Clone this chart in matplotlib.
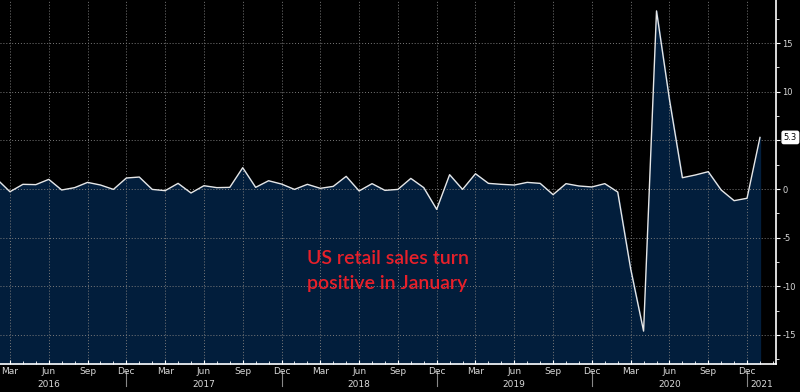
import matplotlib.pyplot as plt
import numpy as np

# monthly % change in US retail sales, Feb 2016 .. Jan 2021
values = [1.0, -0.28, 0.48, 0.45, 0.99, -0.1, 0.14, 0.68, 0.41, -0.04, 1.13,
          1.23, -0.04, -0.17, 0.58, -0.41, 0.34, 0.14, 0.17, 2.19, 0.17, 0.85, 0.51,
          -0.04, 0.48, 0.07, 0.27, 1.30, -0.2, 0.55, -0.14, -0.04, 1.09, 0.14, -2.09,
          1.47, -0.04, 1.57, 0.58, 0.48, 0.41, 0.68, 0.58, -0.58, 0.55, 0.31, 0.21,
          0.55, -0.31, -8.2, -14.6, 18.3, 9.2, 1.16, 1.44, 1.78, -0.1, -1.2, -0.95,
          5.3]
month_labels = ['Mar', 'Jun', 'Sep', 'Dec']
years = ['2016', '2017', '2018', '2019', '2020', '2021']
y_ticks = [-15, -10, -5, 0, 5, 10, 15]
y_labels = ['-15', '-10', '-5', '0', '', '10', '15']  # 5 is hidden behind the last-value box
last_label = '5.3'

x = np.arange(len(values))  # 0 = Feb 2016
ymin, ymax = -17.98, 19.42

fig = plt.figure(figsize=(8, 3.92), dpi=100, facecolor='black')
ax = fig.add_axes([0, 28 / 392, 776 / 800, 1 - 28 / 392])
ax.set_facecolor('black')

ax.fill_between(x, values, ymin, color='#021e3c', zorder=1)
ax.plot(x, values, color='#e6e6e6', lw=1.0, zorder=3)

ax.set_xlim(0.23, 60.24)
ax.set_ylim(ymin, ymax)

# x axis: quarterly labels, monthly minor ticks
quarters = np.arange(1, 59, 3)
ax.set_xticks(quarters)
ax.set_xticklabels([month_labels[i % 4] for i in range(len(quarters))])
ax.set_xticks(np.arange(1, 61), minor=True)
ax.tick_params(axis='x', which='major', direction='in', length=3, color='white',
               labelcolor='#d8d8d8', labelsize=6.5, pad=2)
ax.tick_params(axis='x', which='minor', direction='in', length=2, color='white')

# y axis on the right
ax.yaxis.tick_right()
ax.set_yticks(y_ticks)
ax.set_yticklabels(y_labels)
ax.set_yticks(np.arange(-17.5, 19, 2.5), minor=True)
ax.tick_params(axis='y', which='major', direction='out', length=3, color='white',
               labelcolor='#d8d8d8', labelsize=6, pad=1.5)
ax.tick_params(axis='y', which='minor', direction='out', length=2, color='white')

ax.grid(True, which='major', color='#7a7a7a', linestyle=(0, (1, 2)), lw=0.7, zorder=2)
ax.set_axisbelow(False)

for side in ['top', 'left']:
    ax.spines[side].set_visible(False)
ax.spines['right'].set_color('white')
ax.spines['bottom'].set_color('white')
ax.spines['right'].set_linewidth(1.2)
ax.spines['bottom'].set_linewidth(1.2)

# year labels and separators
trans = ax.get_xaxis_transform()
for i, yr in enumerate(years[:-1]):
    ax.text(4 + 12 * i, -0.055, yr, transform=trans, color='#d8d8d8',
            fontsize=6.5, ha='center', va='center')
ax.text(59.1, -0.055, years[-1], transform=trans, color='#d8d8d8',
        fontsize=6.5, ha='center', va='center')
for i in range(5):
    ax.plot([10 + 12 * i] * 2, [-0.018, -0.06], transform=trans, color='#888888',
            lw=0.8, clip_on=False)

# last value box
ax.text(1.01, (5.3 - ymin) / (ymax - ymin), last_label, transform=ax.transAxes,
        fontsize=6, color='black', ha='left', va='center',
        bbox=dict(boxstyle='round,pad=0.2', fc='white', ec='white'))

fig.text(307 / 800, 1 - 271 / 392, 'US retail sales turn\npositive in January',
         color='#e8202a', fontsize=14, family='Lato', fontweight='semibold',
         ha='left', va='center', linespacing=1.6)

fig.savefig('out.png', dpi=100, facecolor='black')
